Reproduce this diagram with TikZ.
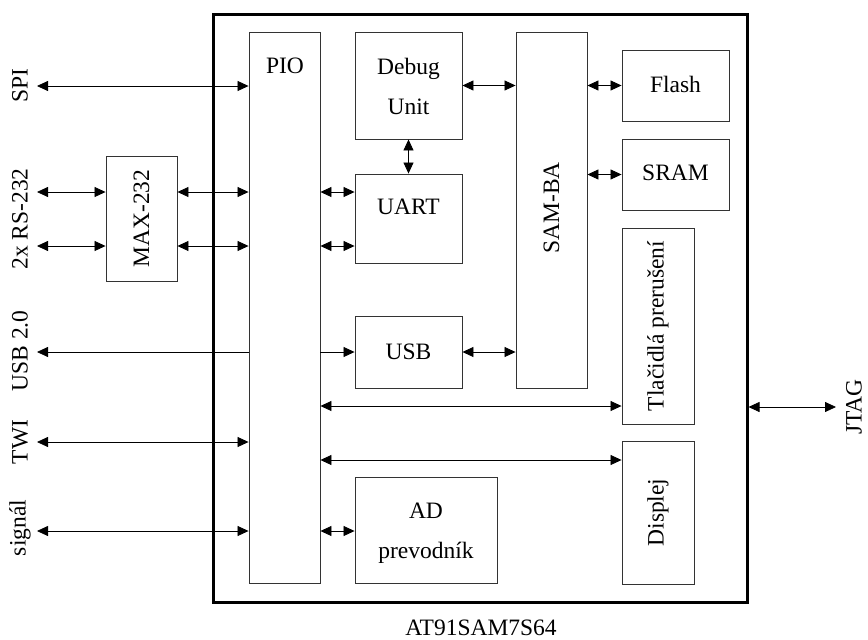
\documentclass[tikz,border=0pt]{standalone}
\usepackage{fontspec}
\setmainfont{Liberation Serif}
\usetikzlibrary{arrows.meta}
\begin{document}
\begin{tikzpicture}[x=1pt,y=-1pt,
  box/.style={draw=black!80, line width=0.9pt, inner sep=0pt},
  tx/.style={font=\fontsize{23.5}{40}\selectfont, inner sep=0pt, align=center},
  rtx/.style={tx, rotate=90},
  dbl/.style={{Triangle[length=11pt,width=10pt]}-{Triangle[length=11pt,width=10pt]}, line width=0.8pt},
  one/.style={-{Triangle[length=11pt,width=10pt]}, line width=0.8pt}]
\useasboundingbox (0,0) rectangle (868,640);
% chip outline
\node[draw=black, line width=3pt, minimum width=534pt, minimum height=588pt, inner sep=0pt] (chip) at (480,308) {};
\node[tx] (chipT) at (481,628) {AT91SAM7S64};
% blocks
\node[box, minimum width=71pt, minimum height=551pt] (pio) at (284.5,307.5) {};
\node[tx] (pioT) at (285,66) {PIO};
\node[box, minimum width=107pt, minimum height=107pt] (dbg) at (408.5,85.5) {};
\node[tx] (dbgT) at (408.5,86) {Debug\\Unit};
\node[box, minimum width=107pt, minimum height=89pt] (uart) at (408.5,218.5) {};
\node[tx] (uartT) at (408.5,207) {UART};
\node[box, minimum width=107pt, minimum height=72pt] (usb) at (408.5,352) {};
\node[tx] (usbT) at (408.5,352) {USB};
\node[box, minimum width=142pt, minimum height=106pt] (ad) at (426,530) {};
\node[tx] (adT) at (426,533) {AD\\prevodník};
\node[box, minimum width=71pt, minimum height=356pt] (samba) at (551.5,210) {};
\node[rtx] (sambaT) at (551.5,208) {SAM-BA};
\node[box, minimum width=107pt, minimum height=71pt] (flash) at (675.5,85.5) {};
\node[tx] (flashT) at (675.5,84) {Flash};
\node[box, minimum width=107pt, minimum height=71pt] (sram) at (675.5,174.5) {};
\node[tx] (sramT) at (675.5,173) {SRAM};
\node[box, minimum width=72pt, minimum height=196pt] (tla) at (658,326) {};
\node[rtx] (tlaT) at (658,326) {Tlačidlá prerušení};
\node[box, minimum width=72pt, minimum height=143pt] (disp) at (658,512.5) {};
\node[rtx] (dispT) at (658,512.5) {Displej};
\node[box, minimum width=71pt, minimum height=125pt] (max) at (141.5,218.5) {};
\node[rtx] (maxT) at (141.5,218.5) {MAX-232};
% outer labels
\node[rtx] (spiT) at (20,86) {SPI};
\node[rtx] (rsT) at (20,219) {2x RS-232};
\node[rtx] (usbo) at (20,351) {USB 2.0};
\node[rtx] (twiT) at (20,442) {TWI};
\node[rtx] (sigT) at (20,528) {signál};
\node[rtx] (jtagT) at (854,407) {JTAG};
% free ends
\coordinate (spiL) at (37,86);
\coordinate (rs1) at (37,192);
\coordinate (rs2) at (37,246);
\coordinate (usbL) at (37,352);
\coordinate (twiL) at (37,442);
\coordinate (sigL) at (37,531);
\coordinate (jtagR) at (836,407);
\coordinate (tlaY) at (0,406);
\coordinate (dispY) at (0,460);
\coordinate (adY) at (0,531);
% connectors outside
\draw[dbl] (spiL) -- (pio.west |- spiL);
\draw[dbl] (rs1) -- (max.west |- rs1);
\draw[dbl] (rs2) -- (max.west |- rs2);
\draw[dbl] (max.east |- rs1) -- (pio.west |- rs1);
\draw[dbl] (max.east |- rs2) -- (pio.west |- rs2);
\draw[one] (pio.west |- usbL) -- (usbL);
\draw[dbl] (twiL) -- (pio.west |- twiL);
\draw[dbl] (sigL) -- (pio.west |- sigL);
\draw[dbl] (chip.east |- jtagR) -- (jtagR);
% connectors inside
\draw[dbl] (dbg.east) -- (samba.west |- dbg.east);
\draw[dbl] (samba.east |- flash.west) -- (flash.west);
\draw[dbl] (samba.east |- sram.west) -- (sram.west);
\draw[dbl] (dbg.south) -- (uart.north);
\draw[dbl] (pio.east |- rs1) -- (uart.west |- rs1);
\draw[dbl] (pio.east |- rs2) -- (uart.west |- rs2);
\draw[one] (pio.east |- usb.west) -- (usb.west);
\draw[dbl] (usb.east) -- (samba.west |- usb.east);
\draw[dbl] (pio.east |- tlaY) -- (tla.west |- tlaY);
\draw[dbl] (pio.east |- dispY) -- (disp.west |- dispY);
\draw[dbl] (pio.east |- adY) -- (ad.west |- adY);
\end{tikzpicture}
\end{document}
